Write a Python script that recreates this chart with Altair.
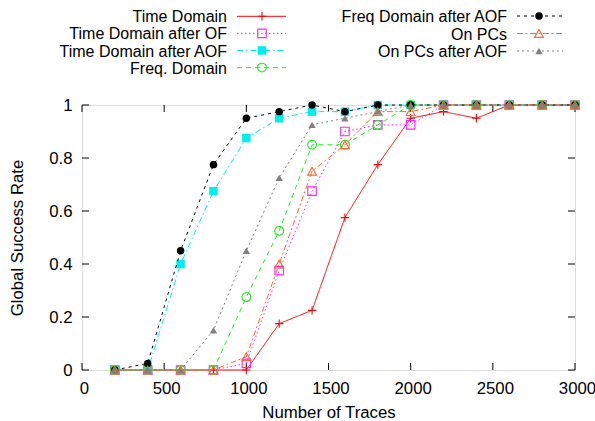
import altair as alt
import pandas as pd

FONT = "Liberation Sans"
FS = 16.8
LFS = 16

traces = [200, 400, 600, 800, 1000, 1200, 1400, 1600, 1800, 2000, 2200, 2400, 2600, 2800, 3000]

names = [
    "Time Domain",
    "Time Domain after OF",
    "Time Domain after AOF",
    "Freq. Domain",
    "Freq Domain after AOF",
    "On PCs",
    "On PCs after AOF",
]

time_domain = [0, 0, 0, 0, 0, 0.175, 0.225, 0.575, 0.775, 0.95, 0.975, 0.95, 1, 1, 1]
time_of = [0, 0, 0, 0, 0.025, 0.375, 0.675, 0.9, 0.925, 0.925, 1, 1, 1, 1, 1]
time_aof = [0, 0, 0.4, 0.675, 0.875, 0.95, 0.975, 0.975, 1, 1, 1, 1, 1, 1, 1]
freq_domain = [0, 0, 0, 0, 0.275, 0.525, 0.85, 0.85, 0.925, 1, 1, 1, 1, 1, 1]
freq_aof = [0, 0.025, 0.45, 0.775, 0.95, 0.975, 1, 0.975, 1, 1, 1, 1, 1, 1, 1]
on_pcs = [0, 0, 0, 0, 0.05, 0.4, 0.75, 0.85, 0.975, 0.975, 1, 1, 1, 1, 1]
pcs_aof = [0, 0, 0, 0.15, 0.45, 0.725, 0.925, 0.95, 0.975, 1, 1, 1, 1, 1, 1]

series_values = [time_domain, time_of, time_aof, freq_domain, freq_aof, on_pcs, pcs_aof]

x_ticks = [0, 500, 1000, 1500, 2000, 2500, 3000]
y_ticks = [0, 0.2, 0.4, 0.6, 0.8, 1]

CROSS = "M-1,0L1,0M0,-1L0,1"
# style per series: color, dash, shape, filled, size
styles = [
    ("#ff0000", [1, 0], CROSS, False, 70),
    ("#ff22ff", [1.5, 2.5], "square", False, 72),
    ("#00eeee", [6, 3, 1.5, 3], "square", True, 72),
    ("#22ee22", [5, 4], "circle", False, 78),
    ("#000000", [3, 4], "circle", True, 56),
    ("#ff6633", [6, 2.5, 2, 2.5], "triangle-up", False, 80),
    ("#808080", [2, 3], "triangle-up", True, 55),
]

rows = []
for name, vals in zip(names, series_values):
    for t, v in zip(traces, vals):
        rows.append({"series": name, "traces": t, "rate": v})
df = pd.DataFrame(rows)

W, H = 493, 265

x_scale = alt.Scale(domain=[0, 3000], nice=False, zero=False)
y_scale = alt.Scale(domain=[0, 1], nice=False, zero=False)

x_axis = alt.Axis(
    title="Number of Traces", values=x_ticks, format="d", grid=False, domain=False,
    ticks=False, tickSize=0, labelPadding=10, labelFont=FONT, labelFontSize=FS,
    labelColor="black", titleFont=FONT, titleFontSize=FS, titleFontWeight="normal",
    titleColor="black", titleBaseline="alphabetic", titleY=47, titleX=W / 2,
    labelFlush=False, labelOverlap=False, labelOffset=2,
)
y_axis = alt.Axis(
    title="Global Success Rate", values=y_ticks, format="~g", grid=False, domain=False,
    ticks=False, tickSize=0, labelPadding=10, labelFont=FONT, labelFontSize=FS,
    labelColor="black", titleFont=FONT, titleFontSize=FS, titleFontWeight="normal",
    titleColor="black", titleAngle=270, titleBaseline="alphabetic", titleX=-60,
    titleY=H / 2, titleAlign="center", labelFlush=False, labelOverlap=False,
)


def X(field):
    return alt.X(field, type="quantitative", scale=x_scale, axis=x_axis)


def Y(field):
    return alt.Y(field, type="quantitative", scale=y_scale, axis=y_axis)


layers = []

# inward ticks (gnuplot style, mirrored)
xt = pd.DataFrame({"v": x_ticks})
yt = pd.DataFrame({"v": y_ticks})
TL = 7
layers.append(alt.Chart(xt).mark_rule(color="black", strokeWidth=1).encode(
    x=X("v"), y=alt.value(H), y2=alt.value(H - TL)))
layers.append(alt.Chart(xt).mark_rule(color="black", strokeWidth=1).encode(
    x=X("v"), y=alt.value(0), y2=alt.value(TL)))
layers.append(alt.Chart(yt).mark_rule(color="black", strokeWidth=1).encode(
    y=Y("v"), x=alt.value(0), x2=alt.value(TL)))
layers.append(alt.Chart(yt).mark_rule(color="black", strokeWidth=1).encode(
    y=Y("v"), x=alt.value(W), x2=alt.value(W - TL)))

for name, (color, dash, shape, filled, size) in zip(names, styles):
    base = alt.Chart(df).transform_filter(alt.datum.series == name)
    layers.append(base.mark_line(color=color, strokeDash=dash, strokeWidth=1).encode(
        x=X("traces"), y=Y("rate")))
    layers.append(base.mark_point(shape=shape, filled=filled, size=size, color=color,
                                  strokeWidth=1.1, opacity=1).encode(
        x=X("traces"), y=Y("rate")))

# manual legend (two columns, labels right-aligned left of samples)
for i, (name, (color, dash, shape, filled, size)) in enumerate(zip(names, styles)):
    if i < 4:
        ty = -88.7 + 17.1 * i
        tx, l0, l1, mx = 145, 155, 204, 180
    else:
        ty = -89 + 17.5 * (i - 4)
        tx, l0, l1, mx = 425, 435, 481, 457
    one = pd.DataFrame({"label": [name]})
    layers.append(alt.Chart(one).mark_text(
        align="right", baseline="middle", font=FONT, fontSize=LFS, color="black").encode(
        x=alt.value(tx), y=alt.value(ty + 1), text="label:N"))
    layers.append(alt.Chart(one).mark_rule(color=color, strokeDash=dash, strokeWidth=1).encode(
        x=alt.value(l0), x2=alt.value(l1), y=alt.value(ty)))
    layers.append(alt.Chart(one).mark_point(shape=shape, filled=filled, size=size, color=color,
                                            strokeWidth=1.1, opacity=1).encode(
        x=alt.value(mx), y=alt.value(ty)))

chart = alt.layer(*layers).properties(
    width=W, height=H,
    autosize=alt.AutoSizeParams(type="none"),
    padding={"left": 82, "top": 105, "right": 20, "bottom": 51},
).configure_view(stroke="black", strokeWidth=1.5).configure(background="white")

chart.save("out.html", embed_options={"renderer": "svg", "actions": False})
